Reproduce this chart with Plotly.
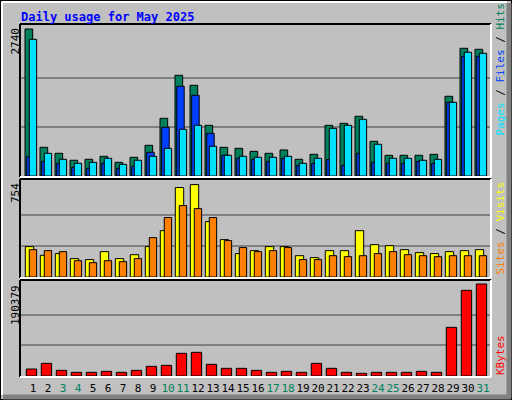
import plotly.graph_objects as go

days = list(range(1, 32))
hits = [2740,535,423,293,311,367,255,349,572,1075,1877,1691,945,535,516,460,423,485,311,404,945,982,1113,647,386,386,386,404,1486,2380,2362]
files = [360,274,237,162,143,237,143,181,442,908,1672,1504,796,386,330,311,274,330,200,237,311,200,423,255,237,237,274,237,1374,2231,2231]
pages = [2548,423,311,237,255,330,218,293,367,516,870,945,554,386,367,349,349,367,237,330,889,945,1057,591,330,330,293,311,1374,2306,2287]
visits = [248,177,191,150,142,207,150,182,248,378,730,754,452,305,191,215,248,248,174,158,215,215,378,264,256,223,199,191,207,215,223]
sites = [223,215,207,133,117,133,125,150,321,485,583,558,485,297,240,207,215,240,142,142,174,166,174,191,207,182,174,166,174,174,174]
kbytes = [14490,26210,11730,7590,7590,9660,7590,11730,20000,22070,46900,48980,24140,15870,15870,11730,7590,9660,7590,26210,15870,7590,5520,7590,7590,7590,9660,7590,100710,177300,190379]
weekend = {3,4,10,11,17,18,24,25,31}
ticktext = [f'<span style="color:#00805C">{d}</span>' if d in weekend else str(d) for d in days]

W, H = 512, 400
def py(p): return 1 - p / H
def px(p): return p / W

MONO = "DejaVu Sans Mono"
fig = go.Figure()
line = dict(color="black", width=1)

def bar(y, color, off, wid, ax):
    fig.add_trace(go.Bar(x=days, y=y, offset=off, width=wid, marker=dict(color=color, line=line),
                         xaxis="x" if ax == "y" else "x" + ax[1:], yaxis=ax, showlegend=False, hoverinfo="skip"))

bar(hits, "#00805C", -0.533, 0.513, "y")
bar(files, "#0040FF", -0.42, 0.5, "y")
bar(pages, "#00E0FF", -0.247, 0.49, "y")
bar(visits, "#FFFF00", -0.513, 0.56, "y2")
bar(sites, "#FF8000", -0.247, 0.49, "y2")
bar(kbytes, "#FF0000", -0.447, 0.69, "y3")

xr = [0.2, 31.467]
panels = [("y", 25, 176, 2740, 147), ("y2", 180, 277, 754, 92.4), ("y3", 281, 376, 190379, 92)]
lay = dict()
for i, (ax, top, bot, mx, mpx) in enumerate(panels):
    key = "yaxis" if ax == "y" else "yaxis" + ax[1:]
    xkey = "xaxis" if ax == "y" else "xaxis" + ax[1:]
    rng = mx * (bot - top) / mpx
    lay[key] = dict(domain=[py(bot), py(top)], range=[0, rng], tickvals=[mx / 3, 2 * mx / 3],
                    showticklabels=False, gridcolor="#808080", gridwidth=1.5, zeroline=False,
                    anchor="x" if ax == "y" else "x" + ax[1:], fixedrange=True)
    xa = dict(domain=[px(21), px(490)], range=xr, showgrid=False, zeroline=False,
              anchor=ax, fixedrange=True, showticklabels=False)
    if ax == "y3":
        xa.update(showticklabels=True, tickvals=days, ticktext=ticktext, ticks="", tickangle=0,
                  ticklabelstandoff=4, tickfont=dict(family=MONO, size=11, color="black"))
    lay[xkey] = xa
fig.update_layout(**lay)

shapes = []
shapes.append(dict(type="rect", xref="paper", yref="paper", x0=0, x1=1, y0=0, y1=1, line=dict(color="black", width=2)))
shapes.append(dict(type="line", xref="paper", yref="paper", x0=px(2), x1=px(507), y0=py(2), y1=py(2), line=dict(color="white", width=2)))
shapes.append(dict(type="line", xref="paper", yref="paper", x0=px(2), x1=px(2), y0=py(2), y1=py(395), line=dict(color="white", width=2)))
shapes.append(dict(type="line", xref="paper", yref="paper", x0=px(509), x1=px(509), y0=py(3), y1=py(398), line=dict(color="#808080", width=5)))
shapes.append(dict(type="line", xref="paper", yref="paper", x0=px(3), x1=px(511), y0=py(397), y1=py(397), line=dict(color="#808080", width=5)))
for (ax, top, bot, mx, mpx) in panels:
    shapes.append(dict(type="line", xref="paper", yref="paper", x0=px(20), x1=px(491), y0=py(top - 1), y1=py(top - 1), line=dict(color="black", width=2)))
    shapes.append(dict(type="line", xref="paper", yref="paper", x0=px(20), x1=px(20), y0=py(top - 1), y1=py(bot + 1), line=dict(color="black", width=2)))
    shapes.append(dict(type="line", xref="paper", yref="paper", x0=px(491), x1=px(491), y0=py(top - 1), y1=py(bot + 1), line=dict(color="white", width=2)))
    shapes.append(dict(type="line", xref="paper", yref="paper", x0=px(20), x1=px(491), y0=py(bot + 1), y1=py(bot + 1), line=dict(color="white", width=2)))

ann = [dict(text="<b>Daily usage for May 2025</b>", x=px(19), y=py(8), xanchor="left", yanchor="top",
            font=dict(family=MONO, size=12, color="#0000FF"))]
for (ax, top, bot, mx, mpx), yt in zip(panels, [26, 181, 283]):
    ann.append(dict(text=str(mx), textangle=-90, x=px(15), y=py(yt), xanchor="center", yanchor="top",
                    font=dict(family=MONO, size=11, color="black")))
ann.append(dict(text='<span style="color:#00E0FF">Pages</span> / <span style="color:#0040FF">Files</span> / <span style="color:#00805C">Hits</span>',
                textangle=-90, x=px(500), y=py(138), xanchor="center", yanchor="bottom", font=dict(family=MONO, size=11, color="black")))
ann.append(dict(text='<span style="color:#FF8000">Sites</span> / <span style="color:#FFFF00">Visits</span>',
                textangle=-90, x=px(500), y=py(277), xanchor="center", yanchor="bottom", font=dict(family=MONO, size=11, color="black")))
ann.append(dict(text='<span style="color:#FF0000">KBytes</span>',
                textangle=-90, x=px(500), y=py(377), xanchor="center", yanchor="bottom", font=dict(family=MONO, size=11, color="black")))
for a in ann:
    a.update(xref="paper", yref="paper", showarrow=False)

fig.update_layout(width=W, height=H, margin=dict(l=0, r=0, t=0, b=0), paper_bgcolor="#C0C0C0",
                  plot_bgcolor="#C0C0C0", barmode="overlay", shapes=shapes, annotations=ann)
fig.write_html("out.html", config={"displayModeBar": False},
               post_script="document.body.style.margin='0';document.body.style.overflow='hidden';")
